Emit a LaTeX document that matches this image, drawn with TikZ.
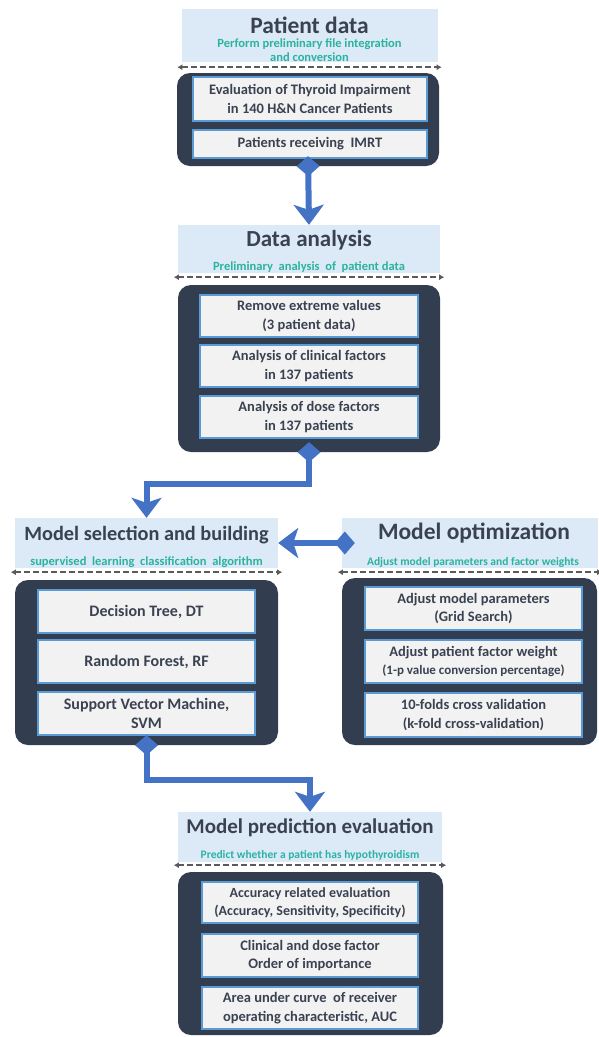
\documentclass[tikz,border=0pt]{standalone}
\usepackage{fontspec}
\setmainfont{Carlito}
\usetikzlibrary{arrows.meta,calc}
\definecolor{hdrfill}{HTML}{DCE9F6}
\definecolor{darkbox}{HTML}{323E4F}
\definecolor{innerfill}{HTML}{F2F2F2}
\definecolor{innerline}{HTML}{5B9BD5}
\definecolor{titlecol}{HTML}{3A4252}
\definecolor{subcol}{HTML}{2AB3A0}
\definecolor{flowcol}{HTML}{4472C4}
\definecolor{dashcol}{HTML}{5A5A5A}
\tikzset{
  hdr/.style={fill=hdrfill, draw=none, inner sep=0pt},
  dk/.style={fill=darkbox, draw=none, rounded corners=13pt, inner sep=0pt},
  ib/.style={fill=innerfill, draw=innerline, line width=2pt, inner sep=0pt, align=center,
     font=\bfseries\fontsize{14.5}{18.5}\selectfont, text=titlecol},
  ttl/.style={font=\bfseries\fontsize{23}{24}\selectfont, text=titlecol, inner sep=0pt},
  sub/.style={font=\bfseries\fontsize{12.5}{13.5}\selectfont, text=subcol, inner sep=0pt, align=center},
  sep/.style={draw=dashcol, line width=1.8pt, dash pattern=on 6pt off 3pt,
     {Latex[length=5pt,width=6pt]}-{Latex[length=5pt,width=6pt]}},
  flow/.style={draw=flowcol, line width=6pt,
     {Diamond[length=20pt,width=23pt]}-{Stealth[length=20pt,width=30pt,inset=5pt]}},
}
\begin{document}
\begin{tikzpicture}[x=1pt,y=-1pt]
\useasboundingbox (0,0) rectangle (598,1037);
% ---------- Section 1
\node[hdr, minimum width=256pt, minimum height=53pt] (h1) at (309.5,35.5) {};
\node[ttl, font=\bfseries\fontsize{23.5}{24}\selectfont] (t1) at (309.5,25) {Patient data};
\node[sub] (s1) at (309.5,50) {Perform preliminary\ file integration\\and conversion};
\draw[sep] ([xshift=-4pt,yshift=-5pt]h1.south west) -- ([xshift=4pt,yshift=-5pt]h1.south east);
\node[dk, minimum width=262pt, minimum height=93pt] (d1) at (308,119.5) {};
\node[ib, minimum width=234pt, minimum height=44pt] (b11) at (310,99) {Evaluation of Thyroid Impairment\\in 140 H\&N Cancer Patients};
\node[ib, minimum width=234pt, minimum height=28pt] (b12) at (310,144) {Patients receiving\ \ IMRT};
% ---------- Section 2
\node[hdr, minimum width=262pt, minimum height=48pt] (h2) at (309,249) {};
\node[ttl] (t2) at (309,240) {Data analysis};
\node[sub] (s2) at (309,267) {Preliminary\ \ analysis\ \ of\ \ patient data};
\draw[sep] ([xshift=-4pt,yshift=-4pt]h2.south west) -- ([xshift=4pt,yshift=-4pt]h2.south east);
\node[dk, minimum width=262pt, minimum height=167pt] (d2) at (309,368.5) {};
\node[ib, minimum width=218pt, minimum height=42pt] (b21) at (309,316) {Remove extreme values\\(3 patient data)};
\node[ib, minimum width=218pt, minimum height=42pt] (b22) at (309,366) {Analysis of clinical factors\\in 137 patients};
\node[ib, minimum width=218pt, minimum height=42pt] (b23) at (309,417) {Analysis of dose factors\\in 137 patients};
% ---------- Section 3 left
\node[hdr, minimum width=263pt, minimum height=50pt] (h3) at (146.5,543) {};
\node[ttl, font=\bfseries\fontsize{20.3}{24}\selectfont] (t3) at (146.5,535) {Model selection and building};
\node[sub] (s3) at (146.5,562) {supervised\ \ learning\ \ classification\ \ algorithm};
\draw[sep] ([xshift=-4pt,yshift=-4pt]h3.south west) -- ([xshift=4pt,yshift=-4pt]h3.south east);
\node[dk, minimum width=263pt, minimum height=165pt] (d3) at (146.5,662.5) {};
\node[ib, minimum width=217pt, minimum height=43pt, font=\bfseries\fontsize{16}{19}\selectfont] (b31) at (146.5,611.5) {Decision Tree, DT};
\node[ib, minimum width=217pt, minimum height=43pt, font=\bfseries\fontsize{16}{19}\selectfont] (b32) at (146.5,661.5) {Random Forest, RF};
\node[ib, minimum width=217pt, minimum height=43pt, font=\bfseries\fontsize{16}{19}\selectfont] (b33) at (146.5,713.5) {Support Vector Machine,\\SVM};
% ---------- Section 3 right
\node[hdr, minimum width=256pt, minimum height=50pt] (h4) at (470,543) {};
\node[ttl, font=\bfseries\fontsize{23.5}{24}\selectfont] (t4) at (474,533) {Model optimization};
\node[sub, font=\bfseries\fontsize{11.5}{12}\selectfont] (s4) at (473,562) {Adjust model parameters and factor weights};
\draw[sep] ([xshift=-4pt,yshift=-4pt]h4.south west) -- ([xshift=4pt,yshift=-4pt]h4.south east);
\node[dk, minimum width=255pt, minimum height=167pt] (d4) at (469.5,661.5) {};
\node[ib, minimum width=217pt, minimum height=43pt] (b41) at (473.5,608.5) {Adjust model parameters\\(Grid Search)};
\node[ib, minimum width=217pt, minimum height=43pt] (b42) at (473.5,661.5) {Adjust patient factor weight\\{\fontsize{13}{18.5}\selectfont(1-p value\ conversion\ percentage)}};
\node[ib, minimum width=217pt, minimum height=44pt] (b43) at (473.5,715) {10-folds cross validation\\(k-fold cross-validation)};
% ---------- Section 4
\node[hdr, minimum width=264pt, minimum height=50pt] (h5) at (310,837) {};
\node[ttl, font=\bfseries\fontsize{21}{24}\selectfont] (t5) at (310,828) {Model prediction evaluation};
\node[sub, font=\bfseries\fontsize{11.5}{12}\selectfont] (s5) at (310,855) {Predict whether a patient has hypothyroidism};
\draw[sep] ([xshift=-4pt,yshift=-3pt]h5.south west) -- ([xshift=4pt,yshift=-3pt]h5.south east);
\node[dk, minimum width=265pt, minimum height=163pt] (d5) at (310.5,953.5) {};
\node[ib, minimum width=216pt, minimum height=41pt, font=\bfseries\fontsize{14}{18.5}\selectfont] (b51) at (310,902.5) {Accuracy related evaluation\\(Accuracy, Sensitivity, Specificity)};
\node[ib, minimum width=216pt, minimum height=43pt] (b52) at (310,955.5) {Clinical and dose factor\\Order of importance};
\node[ib, minimum width=216pt, minimum height=42pt] (b53) at (310,1008) {Area under curve\ \ of receiver\\operating characteristic, AUC};
% ---------- Connectors
\draw[flow] ([yshift=10pt]d1.south) -- (h2.north);
\draw[flow] ([yshift=10pt]d2.south) -- ++(0,42) -| (h3.north);
\draw[flow] ([yshift=10pt]d3.south) -- ++(0,45) -| (h5.north);
\draw[flow] ([xshift=13pt]h4.west) -- (h3.east);
\end{tikzpicture}
\end{document}
